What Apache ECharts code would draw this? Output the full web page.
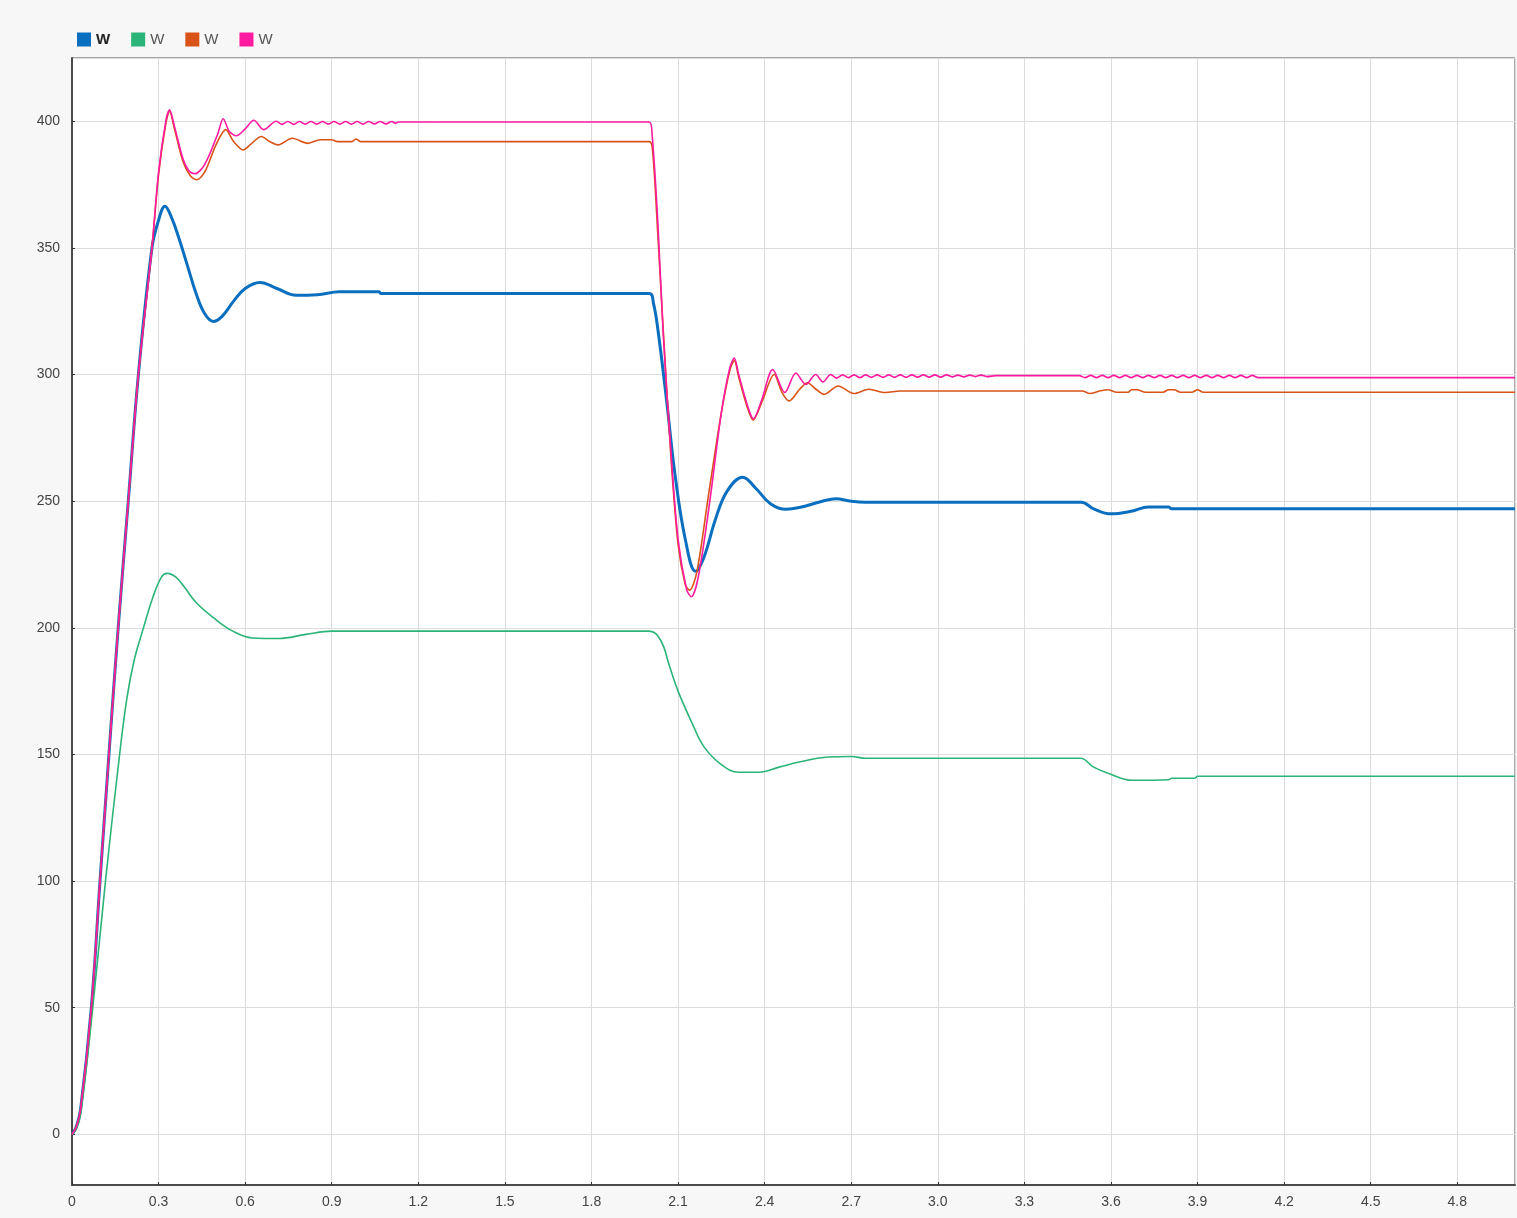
<!DOCTYPE html>
<html>
<head>
<meta charset="utf-8">
<title>W</title>
<script src="https://cdn.jsdelivr.net/npm/echarts@6/dist/echarts.min.js"></script>
<style>
  html, body { margin: 0; padding: 0; background: #f7f7f7; }
  #chart { width: 1517px; height: 1218px; }
</style>
</head>
<body>
<div id="chart"></div>
<script>
// legend labels (all four traces are called "W")
var seriesNames = ['W', 'W', 'W', 'W']
var seriesColors = ['#0b6fc0', '#2bb478', '#d95319', '#ff1aa0']

// [time, value]
var blueData = [
  [0, 0], [0.015, 3], [0.03, 10], [0.067, 50], [0.097, 100], [0.128, 150], [0.16, 200], [0.195, 250],
  [0.23, 300], [0.277, 350], [0.3, 361], [0.322, 366.5], [0.345, 362], [0.37, 354],
  [0.4, 343], [0.43, 332], [0.46, 324], [0.49, 321], [0.52, 323], [0.56, 329],
  [0.6, 334], [0.651, 336.4], [0.71, 334], [0.777, 331.3], [0.85, 331.5], [0.926, 332.7],
  [1.064, 332.7], [1.07, 332], [2.0, 332], [2.015, 328], [2.031, 317], [2.06, 290],
  [2.09, 260], [2.125, 235], [2.161, 222.3], [2.19, 228], [2.23, 243], [2.27, 254],
  [2.324, 259.5], [2.37, 255], [2.42, 249], [2.474, 246.8], [2.52, 247.5], [2.6, 250],
  [2.646, 251], [2.7, 250], [2.75, 249.6], [3.497, 249.6], [3.54, 247], [3.6, 245],
  [3.67, 246], [3.73, 247.7], [3.8, 247.7], [3.81, 247], [5.0, 247]
]

var greenData = [
  [0, 0], [0.015, 2], [0.03, 8], [0.072, 50], [0.116, 100], [0.165, 150], [0.19, 172], [0.215, 187], [0.245, 199],
  [0.28, 212], [0.31, 220], [0.33, 221.5], [0.36, 220], [0.39, 216], [0.43, 210],
  [0.49, 204], [0.557, 198.7], [0.624, 196], [0.716, 195.8], [0.81, 197.4], [0.9, 198.7],
  [2.0, 198.7], [2.04, 195], [2.07, 185], [2.1, 175], [2.15, 162], [2.19, 153],
  [2.25, 146], [2.31, 143], [2.38, 143], [2.45, 145], [2.52, 147], [2.62, 149],
  [2.7, 149.2], [2.75, 148.5], [3.494, 148.5], [3.54, 145], [3.59, 142.6], [3.673, 139.8],
  [3.8, 140], [3.81, 140.6], [3.89, 140.6], [3.9, 141.4], [5.0, 141.4]
]

var orangeData = [
  [0, 0], [0.015, 3], [0.03, 10], [0.067, 50], [0.097, 100], [0.128, 150], [0.16, 200], [0.195, 250],
  [0.23, 300], [0.277, 350], [0.3, 379], [0.325, 399], [0.338, 404], [0.355, 397],
  [0.385, 384], [0.41, 378.5], [0.432, 376.9], [0.46, 380], [0.5, 391], [0.533, 396.7],
  [0.56, 392], [0.593, 388.7], [0.62, 391], [0.656, 394], [0.685, 392], [0.714, 390.7],
  [0.763, 393.3], [0.817, 391.3], [0.86, 392.7], [0.9, 392.7], [0.92, 392], [0.97, 392],
  [0.984, 393], [1.0, 392], [2.0, 392], [2.012, 388], [2.03, 355], [2.05, 315],
  [2.075, 268], [2.1, 233], [2.125, 217], [2.14, 214.9], [2.165, 222], [2.205, 252],
  [2.25, 285], [2.28, 302], [2.295, 305.5], [2.31, 299], [2.34, 287], [2.36, 282],
  [2.39, 289], [2.433, 300], [2.46, 293], [2.485, 289.6], [2.52, 294], [2.548, 296.8],
  [2.58, 294], [2.606, 292.2], [2.655, 295.5], [2.709, 292.5], [2.761, 294.2],
  [2.818, 292.9], [2.87, 293.5], [3.5, 293.5], [3.527, 292.5], [3.56, 293.5],
  [3.59, 294], [3.62, 293], [3.66, 293], [3.67, 294], [3.69, 294], [3.72, 293],
  [3.78, 293], [3.8, 294], [3.82, 294], [3.84, 293], [3.88, 293], [3.9, 294],
  [3.92, 293], [5.0, 293]
]

var pinkData = [
  [0, 0], [0.015, 3], [0.03, 10], [0.067, 50], [0.097, 100], [0.128, 150], [0.16, 200], [0.195, 250],
  [0.23, 300], [0.277, 350], [0.3, 380], [0.325, 400], [0.338, 404.5], [0.355, 398],
  [0.385, 385], [0.405, 380.5], [0.426, 379.3], [0.46, 383], [0.505, 395], [0.524, 401],
  [0.545, 396], [0.57, 394.3], [0.6, 397], [0.63, 400.4], [0.664, 396.7], [0.708, 400],
  [0.728, 398.8], [0.748, 399.9], [0.768, 398.8], [0.788, 399.9], [0.808, 398.9],
  [0.828, 399.9], [0.848, 398.9], [0.868, 399.9], [0.888, 398.9], [0.908, 399.9],
  [0.928, 398.9], [0.948, 399.9], [0.968, 398.9], [0.988, 399.9], [1.008, 398.9],
  [1.028, 399.9], [1.048, 399], [1.068, 399.9], [1.088, 399], [1.108, 399.9],
  [1.122, 399.2], [1.13, 399.7], [2.0, 399.7], [2.01, 395], [2.03, 360], [2.048, 317],
  [2.075, 270], [2.1, 235], [2.13, 215], [2.146, 212.3], [2.17, 220], [2.21, 250],
  [2.25, 285], [2.28, 303], [2.295, 306.5], [2.31, 300], [2.34, 288], [2.361, 282.5],
  [2.39, 290], [2.428, 302], [2.47, 292.9], [2.508, 300.6], [2.543, 296.1], [2.577, 300],
  [2.602, 297.1], [2.629, 300], [2.65, 298.6], [2.67, 299.9], [2.69, 298.8],
  [2.71, 299.9], [2.73, 298.8], [2.75, 299.9], [2.77, 298.9], [2.79, 299.9],
  [2.81, 298.9], [2.83, 299.9], [2.85, 298.9], [2.87, 299.9], [2.89, 298.9],
  [2.91, 299.9], [2.93, 299], [2.95, 299.9], [2.97, 299], [2.99, 299.9], [3.01, 299],
  [3.03, 299.9], [3.05, 299.1], [3.07, 299.8], [3.09, 299.1], [3.11, 299.8],
  [3.13, 299.2], [3.15, 299.8], [3.17, 299.2], [3.2, 299.6], [3.49, 299.6],
  [3.51, 298.8], [3.53, 299.7], [3.55, 298.8], [3.57, 299.7], [3.59, 298.8],
  [3.61, 299.7], [3.63, 298.8], [3.65, 299.7], [3.67, 298.8], [3.69, 299.7],
  [3.71, 298.8], [3.73, 299.7], [3.75, 298.8], [3.77, 299.7], [3.79, 298.8],
  [3.81, 299.7], [3.83, 298.8], [3.85, 299.7], [3.87, 298.8], [3.89, 299.7],
  [3.91, 298.8], [3.93, 299.7], [3.95, 298.8], [3.97, 299.7], [3.99, 298.8],
  [4.01, 299.7], [4.03, 298.8], [4.05, 299.7], [4.07, 298.8], [4.09, 299.7],
  [4.11, 298.8], [5.0, 298.8]
]

var allData = [blueData, greenData, orangeData, pinkData]
var lineWidths = [3, 1.6, 1.6, 1.6]
var smoothing = [0.4, 0.4, 0.3, 0.3]

var chart = echarts.init(document.getElementById('chart'))

var series = allData.map(function (d, i) {
  return {
    name: 'S' + i,
    type: 'line',
    data: d,
    showSymbol: false,
    symbol: 'none',
    smooth: smoothing[i],
    animation: false,
    color: seriesColors[i],
    lineStyle: { width: lineWidths[i], color: seriesColors[i] }
  }
})

chart.setOption({
  backgroundColor: '#f7f7f7',
  animation: false,
  textStyle: { fontFamily: 'Liberation Sans, Arial, sans-serif' },
  legend: {
    left: 72,
    top: 27,
    icon: 'rect',
    itemWidth: 14,
    itemHeight: 14,
    itemGap: 21,
    textStyle: { color: '#555', fontSize: 15 },
    formatter: function (name) {
      return seriesNames[+name.slice(1)]
    },
    data: [
      { name: 'S0', textStyle: { fontWeight: 'bold', color: '#222' } },
      { name: 'S1' },
      { name: 'S2' },
      { name: 'S3' }
    ]
  },
  grid: {
    left: 72,
    right: 2,
    top: 58,
    bottom: 33,
    show: true,
    backgroundColor: '#ffffff',
    borderColor: '#555',
    borderWidth: 1
  },
  xAxis: {
    type: 'value',
    min: 0,
    max: 5,
    interval: 0.3,
    axisLine: { show: true, onZero: false, lineStyle: { color: '#4a4a4a', width: 2 } },
    axisTick: { show: true, inside: true, length: 3, lineStyle: { color: '#333' } },
    axisLabel: {
      color: '#444',
      fontSize: 14,
      margin: 10,
      showMaxLabel: false,
      formatter: function (v) {
        if (v > 4.9) return ''
        if (Math.abs(v) < 1e-9) return '0'
        return v.toFixed(1)
      }
    },
    splitLine: { show: true, lineStyle: { color: '#dcdcdc', width: 1 } }
  },
  yAxis: {
    type: 'value',
    min: -20,
    max: 425,
    splitNumber: 9,
    axisLine: { show: true, onZero: false, lineStyle: { color: '#4a4a4a', width: 2 } },
    axisTick: { show: true, inside: true, length: 3, lineStyle: { color: '#333' } },
    axisLabel: {
      color: '#444',
      fontSize: 14,
      margin: 12,
      showMinLabel: false,
      showMaxLabel: false,
      formatter: function (v) {
        return v % 50 === 0 ? String(v) : ''
      }
    },
    splitLine: { show: true, lineStyle: { color: '#dcdcdc', width: 1 } }
  },
  series: series
})
</script>
</body>
</html>
